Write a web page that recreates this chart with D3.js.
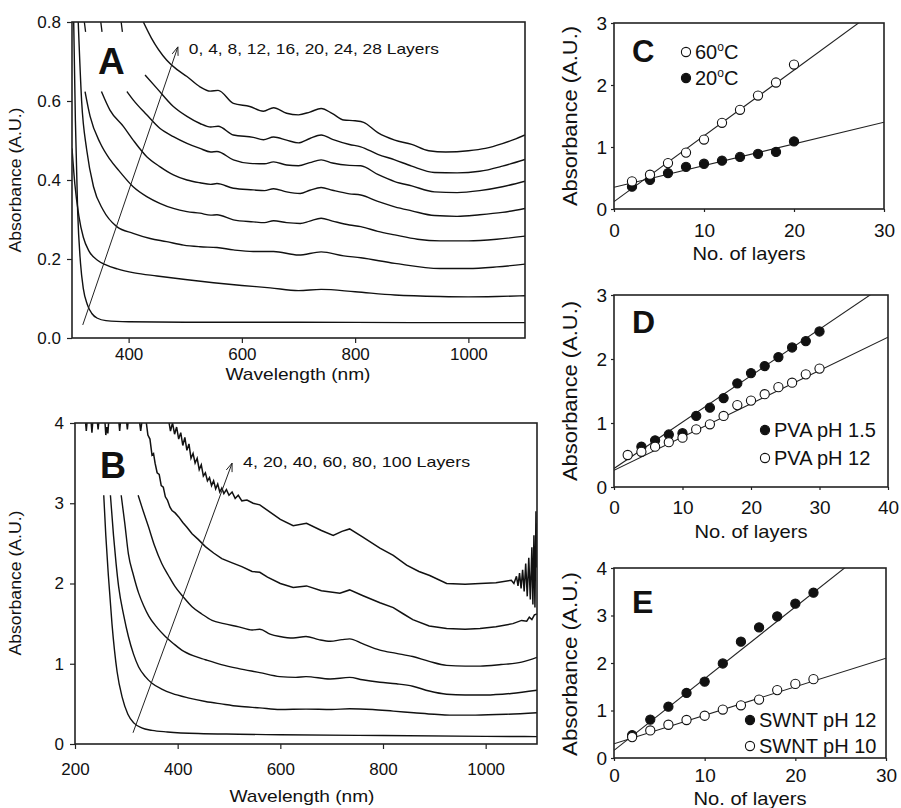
<!DOCTYPE html>
<html>
<head>
<meta charset="utf-8">
<script src="https://d3js.org/d3.v7.min.js"></script>
<style>
  body { margin: 0; background: #fff; }
  svg text { font-family: "Liberation Sans", Arial, sans-serif; fill: #111; }
</style>
</head>
<body>
<svg id="fig" width="901" height="808"></svg>
<script>
// ---------- panel A : spectra, 0..28 layers ----------
var layersA = [0, 4, 8, 12, 16, 20, 24, 28];
var specA0 = [[303,0.80],[306,0.55],[310,0.32],[315,0.19],[320,0.125],[327,0.085],[335,0.062],[345,0.05],[360,0.044],[400,0.041],[500,0.04],[700,0.04],[900,0.039],[1100,0.039]];
var specA4 = [[300,0.48],[305,0.39],[312,0.31],[320,0.255],[330,0.22],[345,0.197],[360,0.185],[380,0.175],[410,0.165],[450,0.157],[500,0.148],[550,0.14],[600,0.133],[650,0.127],[700,0.12],[740,0.123],[800,0.117],[870,0.109],[950,0.105],[1000,0.104],[1050,0.105],[1100,0.107]];
var specA8 = [[311,0.80],[317,0.60],[326,0.476],[338,0.383],[355,0.324],[379,0.282],[408,0.265],[438,0.252],[467,0.244],[497,0.235],[526,0.231],[556,0.229],[585,0.223],[620,0.219],[656,0.219],[700,0.210],[740,0.218],[780,0.208],[810,0.203],[870,0.189],[950,0.176],[1000,0.176],[1050,0.18],[1100,0.187]];
var specA12 = [[323,0.624],[332,0.561],[350,0.493],[367,0.452],[385,0.42],[408,0.383],[432,0.358],[455,0.341],[479,0.328],[503,0.320],[526,0.316],[545,0.311],[556,0.312],[585,0.299],[620,0.294],[640,0.292],[656,0.297],[679,0.292],[703,0.290],[720,0.296],[740,0.303],[760,0.296],[790,0.286],[810,0.282],[840,0.270],[870,0.261],[910,0.25],[950,0.246],[1000,0.246],[1050,0.25],[1100,0.258]];
var specA16 = [[352,0.624],[367,0.577],[391,0.535],[408,0.501],[432,0.459],[455,0.434],[479,0.413],[503,0.400],[526,0.393],[545,0.389],[556,0.391],[585,0.379],[620,0.375],[640,0.373],[656,0.378],[679,0.370],[703,0.366],[720,0.374],[740,0.381],[760,0.374],[790,0.365],[810,0.362],[840,0.346],[870,0.332],[900,0.322],[940,0.31],[980,0.308],[1020,0.312],[1060,0.318],[1100,0.328]];
var specA20 = [[397,0.624],[408,0.603],[432,0.565],[455,0.531],[479,0.510],[503,0.493],[526,0.480],[545,0.471],[556,0.472],[585,0.451],[614,0.442],[640,0.441],[656,0.446],[679,0.438],[700,0.436],[720,0.444],[740,0.451],[760,0.443],[790,0.437],[810,0.436],[840,0.414],[870,0.396],[900,0.385],[940,0.37],[980,0.368],[1020,0.373],[1060,0.383],[1100,0.397]];
var specA24 = [[429,0.666],[450,0.632],[479,0.586],[503,0.561],[526,0.543],[545,0.534],[558,0.536],[585,0.514],[620,0.508],[638,0.502],[656,0.509],[679,0.501],[700,0.494],[720,0.505],[740,0.514],[760,0.503],[790,0.490],[810,0.484],[840,0.465],[870,0.451],[900,0.435],[940,0.419],[980,0.418],[1020,0.422],[1060,0.435],[1100,0.452]];
var specA28 = [[426,0.80],[440,0.76],[467,0.704],[485,0.68],[503,0.662],[526,0.636],[544,0.625],[558,0.627],[585,0.594],[614,0.586],[638,0.574],[656,0.583],[679,0.569],[700,0.565],[720,0.572],[740,0.581],[760,0.568],[780,0.552],[800,0.550],[815,0.546],[840,0.52],[870,0.501],[900,0.49],[930,0.474],[960,0.471],[1000,0.474],[1030,0.48],[1060,0.492],[1080,0.502],[1100,0.514]];
var stubsA = [[[321,0.81],[324,0.775]], [[350,0.81],[353,0.775]], [[386,0.81],[389,0.775]]];
var arrowA = [[319,0.033],[487,0.737]];
var noteA = "0, 4, 8, 12, 16, 20, 24, 28 Layers";

// ---------- panel B : spectra, 4..100 layers ----------
var layersB = [4, 20, 40, 60, 80, 100];
var specB4 = [[256,3.1],[260,2.6],[265,2.1],[272,1.5],[282,0.9],[292,0.58],[303,0.37],[315,0.26],[330,0.2],[350,0.17],[380,0.15],[440,0.13],[520,0.122],[600,0.115],[800,0.105],[1000,0.095],[1100,0.092]];
var specB20 = [[269,3.1],[275,2.6],[280,2.25],[285,1.96],[295,1.6],[304,1.34],[314,1.12],[324,0.96],[337,0.84],[350,0.756],[370,0.68],[389,0.63],[420,0.575],[454,0.53],[485,0.5],[519,0.47],[560,0.45],[599,0.43],[650,0.435],[700,0.43],[735,0.44],[780,0.43],[820,0.41],[860,0.39],[900,0.37],[930,0.36],[980,0.36],[1040,0.37],[1100,0.39]];
var specB40 = [[290,3.1],[297,2.75],[304,2.37],[314,2.1],[324,1.88],[334,1.72],[344,1.59],[360,1.45],[376,1.34],[392,1.25],[408,1.17],[430,1.1],[454,1.05],[485,0.99],[519,0.94],[560,0.89],[599,0.84],[630,0.83],[650,0.84],[697,0.81],[735,0.83],[760,0.80],[794,0.77],[826,0.75],[858,0.72],[890,0.66],[924,0.62],[960,0.61],[1000,0.61],[1050,0.63],[1100,0.67]];
var specB60 = [[323,3.1],[333,2.9],[343,2.71],[355,2.47],[369,2.25],[382,2.1],[395,1.96],[410,1.84],[428,1.71],[447,1.62],[467,1.54],[490,1.5],[519,1.46],[545,1.42],[560,1.43],[580,1.37],[599,1.34],[625,1.32],[650,1.34],[675,1.30],[697,1.28],[720,1.30],[735,1.31],[760,1.25],[794,1.17],[826,1.13],[858,1.09],[890,1.03],[924,0.98],[960,0.97],[989,0.97],[1030,0.99],[1070,1.02],[1100,1.08]];
var specB80 = [[338,4.05],[342,3.85],[346,3.8],[350,3.6],[353,3.62],[356,3.5],[360,3.38],[364,3.36],[368,3.22],[372,3.2],[376,3.08],[380,3.04],[385,2.95],[389,2.91],[395,2.88],[402,2.83],[410,2.76],[418,2.7],[428,2.62],[440,2.55],[454,2.46],[470,2.38],[486,2.31],[505,2.26],[525,2.21],[545,2.15],[560,2.14],[575,2.08],[600,2.0],[625,1.95],[651,1.97],[680,1.91],[716,1.88],[735,1.92],[760,1.85],[794,1.76],[820,1.70],[840,1.62],[858,1.55],[890,1.47],[924,1.44],[960,1.43],[989,1.44],[1020,1.46],[1053,1.50],[1070,1.54],[1080,1.53],[1085,1.58],[1090,1.55],[1095,1.61],[1100,1.62]];
var specB100 = [[382,4.05],[386,3.9],[390,4.0],[394,3.86],[398,3.95],[402,3.8],[406,3.88],[410,3.72],[414,3.82],[418,3.66],[422,3.74],[426,3.56],[430,3.62],[434,3.5],[438,3.56],[442,3.42],[446,3.48],[450,3.34],[454,3.38],[458,3.28],[462,3.32],[466,3.22],[470,3.28],[474,3.18],[478,3.24],[482,3.14],[486,3.19],[490,3.12],[495,3.17],[500,3.1],[506,3.14],[512,3.06],[518,3.1],[525,3.03],[535,3.04],[547,3.0],[560,2.98],[573,2.92],[600,2.8],[625,2.72],[651,2.75],[680,2.66],[703,2.60],[720,2.65],[735,2.68],[760,2.58],[794,2.44],[820,2.35],[846,2.23],[870,2.15],[891,2.10],[924,2.0],[960,1.99],[989,2.0],[1020,2.01],[1050,2.04],[1055,2.0],[1060,2.09],[1063,1.97],[1066,2.13],[1069,1.94],[1072,2.17],[1075,1.9],[1078,2.25],[1081,1.84],[1084,2.32],[1087,1.8],[1090,2.45],[1092,1.74],[1094,2.6],[1096,1.7],[1098,2.9],[1099,2.2],[1100,2.75]];
var topNoiseB = [[220,4.05],[222,3.9],[224,4.05],[231,4.05],[233,3.88],[235,4.05],[243,4.05],[245,3.92],[247,4.05],[258,4.05],[260,3.85],[262,3.95],[264,3.87],[266,4.05],[285,4.05],[287,3.9],[289,4.05],[300,4.05],[302,3.92],[304,4.05],[325,4.05],[328,3.9],[331,4.05]];
var arrowB = [[313,0.14],[506,3.5]];
var noteB = "4, 20, 40, 60, 80, 100 Layers";

// ---------- panel C ----------
var layersC = [2, 4, 6, 8, 10, 12, 14, 16, 18, 20];
var c60 = [0.445, 0.553, 0.74, 0.91, 1.12, 1.39, 1.60, 1.83, 2.04, 2.33];
var c20 = [0.36, 0.47, 0.58, 0.68, 0.73, 0.78, 0.84, 0.89, 0.92, 1.09];
var fitC60 = [0.12, 0.106];   // intercept, slope
var fitC20 = [0.35, 0.035];
var legendC = ["60ºC", "20ºC"];

// ---------- panel D ----------
var layersD = [4, 6, 8, 10, 12, 14, 16, 18, 20, 22, 24, 26, 28, 30];
var dPH15 = [0.63, 0.73, 0.82, 0.84, 1.11, 1.24, 1.39, 1.62, 1.78, 1.89, 2.03, 2.18, 2.28, 2.43];
var layersD12 = [2, 4, 6, 8, 10, 12, 14, 16, 18, 20, 22, 24, 26, 28, 30];
var dPH12 = [0.50, 0.55, 0.63, 0.70, 0.77, 0.90, 0.98, 1.11, 1.28, 1.35, 1.45, 1.56, 1.63, 1.76, 1.85];
var fitD15 = [0.29, 0.0725];
var fitD12 = [0.26, 0.052];
var legendD = ["PVA pH 1.5", "PVA pH 12"];

// ---------- panel E ----------
var layersE = [2, 4, 6, 8, 10, 12, 14, 16, 18, 20, 22];
var ePH12 = [0.48, 0.81, 1.08, 1.37, 1.61, 1.99, 2.45, 2.75, 2.98, 3.25, 3.48];
var ePH10 = [0.44, 0.58, 0.70, 0.80, 0.89, 1.02, 1.11, 1.23, 1.43, 1.56, 1.66];
var fitE12 = [0.16, 0.151];
var fitE10 = [0.30, 0.06];
var legendE = ["SWNT pH 12", "SWNT pH 10"];

var svg = d3.select("#fig");
var clipN = 0;

function panel(box, xd, yd) {
  var x = d3.scaleLinear().domain(xd).range([box.l, box.r]);
  var y = d3.scaleLinear().domain(yd).range([box.b, box.t]);
  var id = "clip" + (clipN++);
  svg.append("clipPath").attr("id", id).append("rect")
    .attr("x", box.l).attr("y", box.t).attr("width", box.r - box.l).attr("height", box.b - box.t);
  var g = svg.append("g");
  var plot = g.append("g").attr("clip-path", "url(#" + id + ")");
  return {x: x, y: y, g: g, plot: plot, box: box};
}

function axes(p, xt, yt, yfmt, fs, tsz, xpad, ypad) {
  var xa = p.g.append("g").attr("transform", "translate(0," + p.box.b + ")")
    .call(d3.axisBottom(p.x).tickValues(xt).tickSize(tsz).tickPadding(xpad).tickFormat(d3.format("d")));
  var ya = p.g.append("g").attr("transform", "translate(" + p.box.l + ",0)")
    .call(d3.axisLeft(p.y).tickValues(yt).tickSize(tsz).tickPadding(ypad).tickFormat(yfmt));
  [xa, ya].forEach(function(a) {
    a.select(".domain").remove();
    a.selectAll("line").attr("stroke", "#222").attr("stroke-width", 1.2);
    a.selectAll("text").style("font-size", fs + "px").attr("fill", "#111");
  });
  p.g.append("rect").attr("x", p.box.l).attr("y", p.box.t)
    .attr("width", p.box.r - p.box.l).attr("height", p.box.b - p.box.t)
    .attr("fill", "none").attr("stroke", "#222").attr("stroke-width", 1.6);
}

function ytitle(cx, cy, fs, len) {
  svg.append("text").attr("transform", "translate(" + cx + "," + cy + ") rotate(-90)")
    .attr("text-anchor", "middle").style("font-size", fs + "px")
    .attr("textLength", len).attr("lengthAdjust", "spacingAndGlyphs")
    .text("Absorbance (A.U.)");
}
function xtitle(txt, cx, by, fs, len) {
  svg.append("text").attr("x", cx).attr("y", by).attr("text-anchor", "middle")
    .style("font-size", fs + "px").attr("textLength", len).attr("lengthAdjust", "spacingAndGlyphs")
    .text(txt);
}
function letter(t, x, y, fs) {
  svg.append("text").attr("x", x).attr("y", y).style("font-size", fs + "px")
    .style("font-weight", "bold").text(t);
}
function arrow(p, pts) {
  var x1 = p.x(pts[0][0]), y1 = p.y(pts[0][1]), x2 = p.x(pts[1][0]), y2 = p.y(pts[1][1]);
  var a = Math.atan2(y2 - y1, x2 - x1), h = 9, w = 0.35;
  p.g.append("line").attr("x1", x1).attr("y1", y1).attr("x2", x2).attr("y2", y2)
    .attr("stroke", "#222").attr("stroke-width", 1);
  p.g.append("path").attr("fill", "none").attr("stroke", "#222").attr("stroke-width", 1)
    .attr("d", "M" + (x2 - h * Math.cos(a - w)) + "," + (y2 - h * Math.sin(a - w)) +
      "L" + x2 + "," + y2 + "L" + (x2 - h * Math.cos(a + w)) + "," + (y2 - h * Math.sin(a + w)));
}

// ===== Panel A =====
var pA = panel({l: 72, r: 525, t: 22, b: 338}, [300, 1100], [0, 0.8]);
var lineA = d3.line().x(function(d) { return pA.x(d[0]); }).y(function(d) { return pA.y(d[1]); }).curve(d3.curveMonotoneX);
pA.plot.selectAll("path.spec").data([specA0, specA4, specA8, specA12, specA16, specA20, specA24, specA28])
  .enter().append("path").attr("class", "spec").attr("d", lineA)
  .attr("fill", "none").attr("stroke", "#111").attr("stroke-width", 1.4);
pA.plot.selectAll("path.stub").data(stubsA).enter().append("path").attr("class", "stub")
  .attr("d", d3.line().x(function(d) { return pA.x(d[0]); }).y(function(d) { return pA.y(d[1]); }))
  .attr("stroke", "#111").attr("stroke-width", 1.3);
axes(pA, [400, 600, 800, 1000], [0, 0.2, 0.4, 0.6, 0.8], d3.format(".1f"), 17, 5, 5, 6);
arrow(pA, arrowA);
svg.append("text").attr("x", pA.x(arrowA[1][0]) + 11).attr("y", pA.y(arrowA[1][1]) + 7)
  .style("font-size", "15px").attr("textLength", 250).attr("lengthAdjust", "spacingAndGlyphs").text(noteA);
letter("A", 98, 74, 37);
ytitle(21, 180, 17, 145);
xtitle("Wavelength (nm)", 298, 380, 17, 145);

// ===== Panel B =====
var pB = panel({l: 75, r: 537, t: 423, b: 744}, [200, 1100], [0, 4]);
var lineB = d3.line().x(function(d) { return pB.x(d[0]); }).y(function(d) { return pB.y(d[1]); }).curve(d3.curveMonotoneX);
pB.plot.selectAll("path.spec").data([specB4, specB20, specB40, specB60])
  .enter().append("path").attr("class", "spec").attr("d", lineB)
  .attr("fill", "none").attr("stroke", "#111").attr("stroke-width", 1.4);
var linB = d3.line().x(function(d) { return pB.x(d[0]); }).y(function(d) { return pB.y(d[1]); });
pB.plot.selectAll("path.noisy").data([specB80, specB100, topNoiseB])
  .enter().append("path").attr("class", "noisy").attr("d", linB)
  .attr("fill", "none").attr("stroke", "#111").attr("stroke-width", 1.5);
axes(pB, [200, 400, 600, 800, 1000], [0, 1, 2, 3, 4], d3.format("d"), 17, 5, 14, 6);
arrow(pB, arrowB);
svg.append("text").attr("x", pB.x(arrowB[1][0]) + 11).attr("y", pB.y(arrowB[1][1]) + 4)
  .style("font-size", "15px").attr("textLength", 227).attr("lengthAdjust", "spacingAndGlyphs").text(noteB);
letter("B", 100, 478, 36);
ytitle(21, 583, 17, 145);
xtitle("Wavelength (nm)", 302, 802, 17, 145);

// ===== scatter panels =====
function scatter(p, xs, ys, filled) {
  p.plot.selectAll(null).data(ys).enter().append("circle")
    .attr("cx", function(d, i) { return p.x(xs[i]); })
    .attr("cy", function(d) { return p.y(d); })
    .attr("r", 4.6).attr("fill", filled ? "#111" : "#fff")
    .attr("stroke", "#111").attr("stroke-width", 1.1);
}
function fit(p, f) {
  var d0 = p.x.domain();
  p.plot.append("line").attr("x1", p.x(d0[0])).attr("y1", p.y(f[0] + f[1] * d0[0]))
    .attr("x2", p.x(d0[1])).attr("y2", p.y(f[0] + f[1] * d0[1]))
    .attr("stroke", "#222").attr("stroke-width", 1.1);
}
function legend(items, x, y0, dy) {
  items.forEach(function(it, i) {
    svg.append("circle").attr("cx", x).attr("cy", y0 + i * dy).attr("r", 4.6)
      .attr("fill", it.filled ? "#111" : "#fff").attr("stroke", "#111").attr("stroke-width", 1.1);
    var t = svg.append("text").attr("x", x + 9).attr("y", y0 + i * dy + 7).style("font-size", "20px");
    if (it.sup) {
      t.append("tspan").text(it.label.split("º")[0]);
      t.append("tspan").attr("dy", -8).style("font-size", "12px").text("o");
      t.append("tspan").attr("dy", 8).text("C");
    } else {
      t.text(it.label);
    }
  });
}

// C
var pC = panel({l: 614, r: 884, t: 23, b: 209}, [0, 30], [0, 3]);
fit(pC, fitC60); fit(pC, fitC20);
scatter(pC, layersC, c20, true);
scatter(pC, layersC, c60, false);
axes(pC, [0, 10, 20, 30], [0, 1, 2, 3], d3.format("d"), 19, 3, 12, 4);
legend([{label: legendC[0], filled: false, sup: true}, {label: legendC[1], filled: true, sup: true}], 686, 52, 26);
letter("C", 632, 62, 31);
ytitle(577, 116, 20, 180);
xtitle("No. of layers", 749, 260, 19, 113);

// D
var pD = panel({l: 614, r: 888, t: 295, b: 487}, [0, 40], [0, 3]);
fit(pD, fitD15); fit(pD, fitD12);
scatter(pD, layersD, dPH15, true);
scatter(pD, layersD12, dPH12, false);
axes(pD, [0, 10, 20, 30, 40], [0, 1, 2, 3], d3.format("d"), 19, 3, 11, 4);
legend([{label: legendD[0], filled: true}, {label: legendD[1], filled: false}], 765, 430, 28);
letter("D", 632, 333, 32);
ytitle(577, 391, 20, 180);
xtitle("No. of layers", 751, 538, 19, 113);

// E
var pE = panel({l: 614, r: 886, t: 568, b: 758}, [0, 30], [0, 4]);
fit(pE, fitE12); fit(pE, fitE10);
scatter(pE, layersE, ePH12, true);
scatter(pE, layersE, ePH10, false);
axes(pE, [0, 10, 20, 30], [0, 1, 2, 3, 4], d3.format("d"), 19, 3, 8, 4);
legend([{label: legendE[0], filled: true}, {label: legendE[1], filled: false}], 750, 720, 26);
letter("E", 632, 613, 32);
ytitle(577, 664, 20, 184);
xtitle("No. of layers", 750, 805, 19, 113);
</script>
</body>
</html>
